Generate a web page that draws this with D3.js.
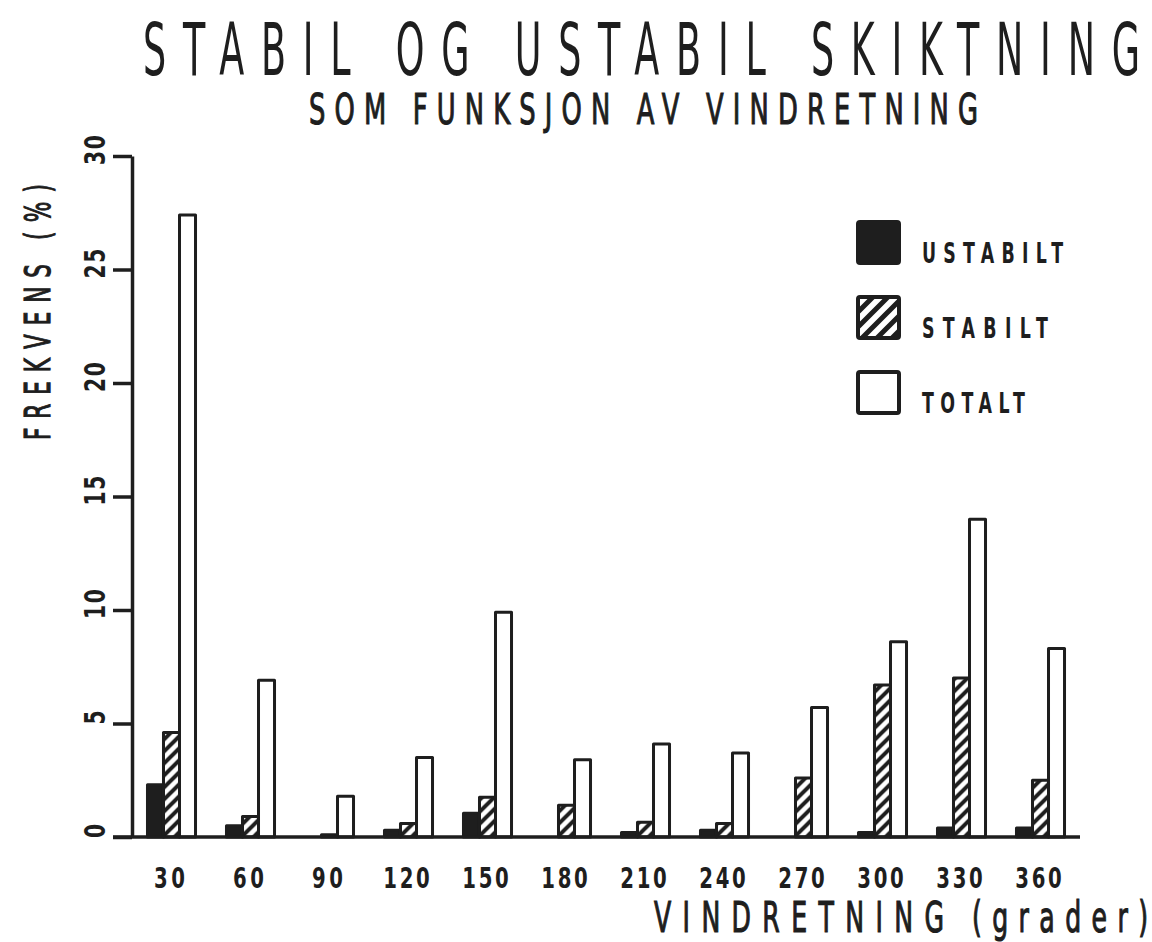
<!DOCTYPE html>
<html>
<head>
<meta charset="utf-8">
<script src="https://cdn.jsdelivr.net/npm/d3@7"></script>
<style>
  body { margin: 0; background: #fff; }
  svg { display: block; }
</style>
</head>
<body>
<svg></svg>
<script>
// data (percent)
let directions = ['30', '60', '90', '120', '150', '180', '210', '240', '270', '300', '330', '360'];
let ustabilt = [2.3, 0.5, 0.0, 0.3, 1.05, 0.0, 0.2, 0.3, 0.0, 0.2, 0.4, 0.4];
let stabilt  = [4.6, 0.9, 0.1, 0.6, 1.75, 1.4, 0.65, 0.6, 2.6, 6.7, 7.0, 2.5];
let totalt   = [27.4, 6.9, 1.8, 3.5, 9.9, 3.4, 4.1, 3.7, 5.7, 8.6, 14.0, 8.3];
let yTicks = [0, 5, 10, 15, 20, 25, 30];
let seriesNames = ['USTABILT', 'STABILT', 'TOTALT'];

let width = 1152;
let height = 942;
let ink = '#1e1e1e';

let svg = d3.select('svg')
            .attr('width', width)
            .attr('height', height);

// hatch patterns
let defs = svg.append('defs');
let makeHatch = (id, step, sw) => {
    defs.append('pattern')
        .attr('id', id)
        .attr('patternUnits', 'userSpaceOnUse')
        .attr('width', step)
        .attr('height', step)
        .append('path')
        .attr('d', `M${-step / 2},${step / 2} l${step},${-step} M0,${step} l${step},${-step} M${step / 2},${step * 1.5} l${step},${-step}`)
        .attr('stroke', ink)
        .attr('stroke-width', sw);
};
makeHatch('hatch', 12, 4);
makeHatch('hatchBig', 15, 5);

// text helper: narrow plotter-like lettering with wide spacing
let addText = (parent, str, o) => {
    let t = parent.append('text')
                  .attr('transform', `translate(${o.x},${o.y}) rotate(${o.rot || 0}) scale(${o.sx},1)`)
                  .attr('font-family', 'DejaVu Sans, sans-serif')
                  .attr('font-size', o.size)
                  .attr('font-weight', o.weight || 'bold')
                  .attr('text-anchor', o.anchor || 'start')
                  .attr('fill', ink)
                  .text(str);
    if (o.stroke) {
        t.attr('stroke', ink).attr('stroke-width', o.stroke);
    }
    if (o.w) {
        t.attr('textLength', o.w / o.sx)
         .attr('lengthAdjust', 'spacing');
    }
    return t;
};

// scales
let xScale = d3.scaleBand()
               .domain(directions)
               .range([132, 1080])
               .paddingInner(0.392)
               .paddingOuter(0.196);

let subScale = d3.scaleBand()
                 .domain([0, 1, 2])
                 .range([0, xScale.bandwidth()]);

let yScale = d3.scaleLinear()
               .domain([0, 30])
               .range([837, 156]);

// titles
addText(svg, 'STABIL OG USTABIL SKIKTNING', {x: 143, y: 75, size: 73, sx: 0.5, w: 997, weight: 'normal'});
addText(svg, 'SOM FUNKSJON AV VINDRETNING', {x: 309, y: 124, size: 43, sx: 0.6, w: 669, weight: 'normal', stroke: 1.2});

// bars
let rows = directions.map((d, i) => ({dir: d, vals: [ustabilt[i], stabilt[i], totalt[i]]}));
let fills = [ink, 'url(#hatch)', '#fff'];

let groups = svg.selectAll('g.group')
                .data(rows)
                .enter()
                .append('g')
                .attr('class', 'group')
                .attr('transform', d => `translate(${xScale(d.dir)},0)`);

groups.selectAll('rect')
      .data(d => d.vals.map((v, k) => ({v: v, k: k})))
      .enter()
      .append('rect')
      .attr('x', d => subScale(d.k))
      .attr('y', d => yScale(d.v))
      .attr('width', subScale.bandwidth())
      .attr('height', d => yScale(0) - yScale(d.v))
      .attr('fill', d => fills[d.k])
      .attr('stroke', ink)
      .attr('stroke-width', d => d.v > 0 ? 3 : 0)
      .attr('stroke-linejoin', 'round');

// y axis
let yAxis = d3.axisLeft(yScale)
              .tickValues(yTicks)
              .tickSize(19)
              .tickSizeOuter(0)
              .tickFormat('');

let yAxisG = svg.append('g')
                .attr('id', 'y-axis')
                .attr('transform', 'translate(132,0)')
                .call(yAxis);
yAxisG.selectAll('path, line')
      .attr('stroke', ink)
      .attr('stroke-width', 3.5);

yTicks.forEach(t => {
    addText(svg, String(t), {x: 105, y: yScale(t) - 6, rot: -90, size: 29, sx: 0.7, anchor: 'middle', w: String(t).length * 15});
});

// baseline
svg.append('line')
   .attr('x1', 113)
   .attr('x2', xScale.range()[1])
   .attr('y1', yScale(0))
   .attr('y2', yScale(0))
   .attr('stroke', ink)
   .attr('stroke-width', 3.5);

// x tick labels
directions.forEach(d => {
    addText(svg, d, {x: xScale(d) + xScale.bandwidth() / 2 - 2, y: 888, size: 29, sx: 0.68, anchor: 'middle', w: d.length * 15.5});
});

// axis titles
addText(svg, 'VINDRETNING', {x: 654, y: 932, size: 42, sx: 0.6, w: 290, weight: 'normal', stroke: 1.2});
addText(svg, '(grader)', {x: 972, y: 932, size: 42, sx: 0.6, w: 176, weight: 'normal', stroke: 1.2});
addText(svg, 'FREKVENS', {x: 50, y: 440, rot: -90, size: 36, sx: 0.6, w: 176, weight: 'normal', stroke: 1.2});
addText(svg, '(%)', {x: 50, y: 240, rot: -90, size: 36, sx: 0.6, w: 56, weight: 'normal', stroke: 1.2});

// legend
let legend = svg.append('g')
                .attr('id', 'legend')
                .attr('transform', 'translate(858,222)');

let legendFills = [ink, 'url(#hatchBig)', '#fff'];
let legendWidths = [141, 126, 103];

seriesNames.forEach((name, i) => {
    legend.append('rect')
          .attr('x', 0)
          .attr('y', i * 75)
          .attr('width', 41)
          .attr('height', 41)
          .attr('rx', 2)
          .attr('fill', legendFills[i])
          .attr('stroke', ink)
          .attr('stroke-width', 4);
    addText(legend, name, {x: 64, y: i * 75 + 41, size: 29, sx: 0.6, w: legendWidths[i]});
});
</script>
</body>
</html>
